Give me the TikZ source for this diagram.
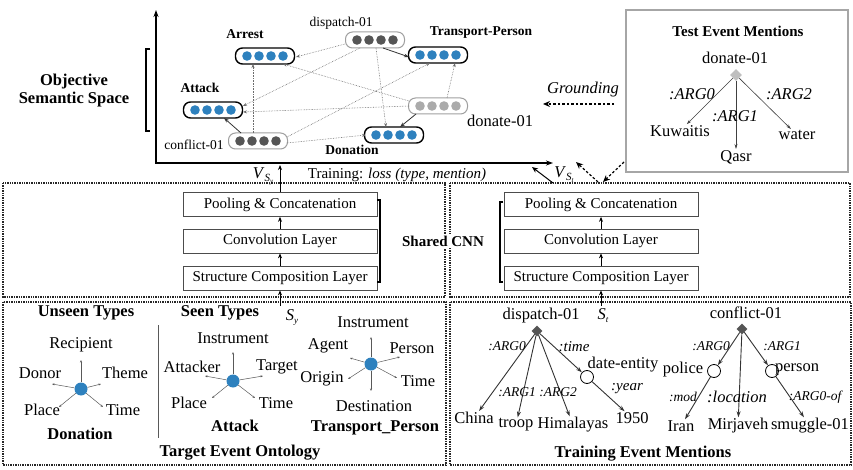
\documentclass[tikz,border=0pt]{standalone}
\usepackage{fontspec}
\setmainfont{Liberation Serif}
\usetikzlibrary{arrows.meta,calc,shapes.geometric}
\definecolor{dotblue}{HTML}{2E81BE}
\definecolor{dotdark}{HTML}{555555}
\definecolor{dotlight}{HTML}{ABABAB}
\begin{document}
\begin{tikzpicture}[x=1pt,y=-1pt,
  fbig/.style={font=\fontsize{16.5}{18}\selectfont},
  fbigb/.style={font=\fontsize{16.5}{18}\selectfont\bfseries},
  fmid/.style={font=\fontsize{15}{17}\selectfont},
  fmidb/.style={font=\fontsize{15}{17}\selectfont\bfseries},
  ftyp/.style={font=\fontsize{13.5}{15}\selectfont\bfseries},
  fsm/.style={font=\fontsize{13.5}{15}\selectfont},
  flab/.style={font=\fontsize{13.5}{15}\selectfont\itshape},
  flabm/.style={font=\fontsize{15}{17}\selectfont\itshape},
  flabb/.style={font=\fontsize{16.5}{18}\selectfont\itshape},
  txt/.style={inner sep=1pt},
  pillseen/.style={draw=black, line width=1.4pt, rounded corners=7pt, minimum width=59pt, minimum height=16pt, inner sep=0pt},
  pillment/.style={draw=gray!75, line width=1pt, rounded corners=7pt, minimum width=59pt, minimum height=16pt, inner sep=0pt},
  dotarr/.style={gray!85!black, densely dotted, line width=0.6pt, -{Stealth[length=4pt,width=3pt]}},
  solarr/.style={black!80, line width=0.8pt, -{Stealth[length=5pt,width=3.5pt]}},
  axis/.style={line width=1.6pt, {Stealth[length=7pt,width=5pt]}-{Stealth[length=7pt,width=5pt]}},
  dasharr/.style={line width=1.5pt, dash pattern=on 2.5pt off 2pt, -{Stealth[length=7pt,width=6pt]}},
  panel/.style={draw=black!85, line width=1.4pt, densely dotted},
  layer/.style={draw=black!70, line width=0.7pt, minimum width=194pt, minimum height=24pt, fmid, inner sep=0pt},
  uparr/.style={line width=1pt, -{Stealth[length=5pt,width=4pt]}},
  hub/.style={circle, fill=dotblue, minimum size=13pt, inner sep=0pt},
  spoke/.style={gray!70!black, line width=0.5pt, -{Stealth[length=2.5pt,width=2pt]}},
  tree/.style={black!80, line width=0.9pt, -{Stealth[length=6pt,width=4pt]}},
  ttree/.style={black!75, line width=0.6pt, -{Stealth[length=5pt,width=3pt]}},
  amr/.style={diamond, fill=dotdark, minimum size=11pt, inner sep=0pt},
  ent/.style={circle, draw=black, line width=0.8pt, fill=white, minimum size=13pt, inner sep=0pt}
]
\useasboundingbox (0,0) rectangle (853,470);

% ---------------- Objective semantic space ----------------
\node[fbigb, align=center, txt] (objlab) at (74,91) {Objective\\Semantic Space};
\draw[line width=1.2pt] (150,49) -- (146,49) -- (146,131) -- (150,131);
\coordinate (O) at (156,163);
\coordinate (ytop) at (156,10);
\coordinate (xend) at (553,163);
\draw[axis] (ytop) -- (O) -- (xend);

\node[pillseen] (arrest) at (265,56) {};
\node[pillseen] (attack) at (213,110) {};
\node[pillseen] (transp) at (438,55) {};
\node[pillseen] (donation) at (394,135) {};
\node[pillment] (disp) at (375,40) {};
\node[pillment] (confl) at (258,141) {};
\node[pillment] (donate) at (438,106) {};
\foreach \n/\c in {arrest/dotblue,attack/dotblue,transp/dotblue,donation/dotblue,disp/dotdark,confl/dotdark,donate/dotlight}
  \foreach \d in {-18,-6,6,18}
    \fill[\c] ($(\n)+(\d,0)$) circle (4.8pt);

\node[ftyp, txt] (arrestl) at (245,34) {Arrest};
\node[ftyp, txt] (attackl) at (200,88) {Attack};
\node[ftyp, txt] (transpl) at (481,33) {Transport-Person};
\node[ftyp, txt] (donationl) at (352,150) {Donation};
\node[fsm, txt] (displ) at (341,23) {dispatch-01};
\node[fsm, txt] (confll) at (194,145) {conflict-01};
\node[fbig, txt] (donatel) at (500,121) {donate-01};

\draw[dotarr] ($(disp)+(-30,4)$) -- ($(arrest)+(31,1)$);
\draw[dotarr] ($(disp)+(-15,8)$) -- ($(attack)+(30,-4)$);
\draw[dotarr] ($(disp)+(1,8)$) -- ($(donation)+(-8,-8)$);
\draw[solarr] ($(disp)+(8,8)$) -- ($(transp)+(-29,2)$);
\draw[solarr] ($(confl)+(-17,-8)$) -- ($(attack)+(11,8)$);
\draw[dotarr] ($(confl)+(-5,-8)$) -- ($(arrest)+(-12,8)$);
\draw[dotarr] ($(confl)+(29,-4)$) -- ($(transp)+(-8,8)$);
\draw[dotarr] ($(confl)+(29,2)$) -- ($(donation)+(-28,0)$);
\draw[dotarr] ($(donate)+(-29,-5)$) -- ($(arrest)+(18,8)$);
\draw[dotarr] ($(donate)+(-29,0)$) -- ($(attack)+(30,2)$);
\draw[dotarr] ($(donate)+(9,-8)$) -- ($(transp)+(17,8)$);
\draw[solarr] ($(donate)+(-22,8)$) -- ($(donation)+(6,-8)$);

% ---------------- Grounding ----------------
\coordinate (g1) at (614,104);
\coordinate (g2) at (543,104);
\draw[dasharr] (g1) -- (g2);
\node[flabb, txt] (groundl) at (583,90) {Grounding};

% ---------------- Test event mentions ----------------
\draw[draw=gray!70, line width=1.5pt] (626,10) rectangle (848,172);
\node[fmidb, txt] (testl) at (738,31) {Test Event Mentions};
\node[fbig, txt] (tdonate) at (735,58) {donate-01};
\node[amr, fill=gray!50, minimum size=12pt] (tdiam) at (736,75) {};
\node[fbig, txt] (kuw) at (680,131) {Kuwaitis};
\node[fbig, txt] (qasr) at (736,157) {Qasr};
\node[fbig, txt] (water) at (797,135) {water};
\draw[ttree] (tdiam) -- (kuw);
\draw[ttree] (tdiam) -- (qasr);
\draw[ttree] (tdiam) -- (water);
\node[flabb, txt] (ta0) at (692,94) {:ARG0};
\node[flabb, txt] (ta1) at (735,116) {:ARG1};
\node[flabb, txt] (ta2) at (789,94) {:ARG2};

% ---------------- CNN panels ----------------
\draw[panel] (3,183) rectangle (445,297);
\draw[panel] (450,183) rectangle (850,297);
\draw[panel] (3,302) rectangle (446,465);
\draw[panel] (450,302) rectangle (851,465);

\node[layer] (pool1) at (280,204.5) {Pooling \& Concatenation};
\node[layer] (conv1) at (280,241) {Convolution Layer};
\node[layer] (str1) at (280,278) {Structure Composition Layer};
\node[layer] (pool2) at (601,204.5) {Pooling \& Concatenation};
\node[layer] (conv2) at (601,241) {Convolution Layer};
\node[layer] (str2) at (601,278) {Structure Composition Layer};
\draw[uparr] (conv1) -- (pool1);
\draw[uparr] (str1) -- (conv1);
\draw[uparr] (conv2) -- (pool2);
\draw[uparr] (str2) -- (conv2);
\draw[line width=1.1pt] (377,200) -- (380,200) -- (380,282) -- (377,282);
\draw[line width=1.1pt] (503,202) -- (500,202) -- (500,282) -- (503,282);
\node[fmidb, fill=white, inner sep=2pt] (shared) at (443,241) {Shared CNN};

\coordinate (sy0) at (280,306);
\coordinate (st0) at (601,306);
\draw[uparr] (sy0) -- (str1);
\draw[uparr] (st0) -- (str2);
\node[fbig, txt] (syl) at (292,318) {\textit{S}\raisebox{-3pt}{\fontsize{9}{9}\selectfont\textit{y}}};
\node[fbig, txt] (stl) at (603,316) {\textit{S}\raisebox{-3pt}{\fontsize{9}{9}\selectfont\textit{t}}};

% outputs to the semantic space
\coordinate (vy) at (280,165);
\draw[uparr] (pool1) -- (vy);
\node[fbig, txt] (vsyl) at (263,176) {\textit{V}\raisebox{-3pt}{\fontsize{11}{11}\selectfont\textit{S}\raisebox{-2pt}{\fontsize{7}{7}\selectfont\textit{y}}}};
\node[fmid, txt] (trainl) at (397,175) {Training: \textit{loss (type, mention)}};
\coordinate (vt1) at (553,183);
\coordinate (vt2) at (532,167);
\draw[line width=1pt, -{Stealth[length=6pt,width=5pt]}] (vt1) -- (vt2);
\node[fbig, txt] (vstl) at (564,175) {\textit{V}\raisebox{-3pt}{\fontsize{11}{11}\selectfont\textit{S}\raisebox{-2pt}{\fontsize{7}{7}\selectfont\textit{t}}}};
\coordinate (d1) at (598,182);
\coordinate (d2) at (576,162);
\coordinate (d3) at (624,162);
\coordinate (d4) at (603,182);
\draw[dasharr, line width=1.2pt] (d1) -- (d2);
\draw[dasharr, line width=1.2pt] (d3) -- (d4);

% ---------------- Target event ontology ----------------
\node[fbigb, txt] (unseen) at (86,313) {Unseen Types};
\node[fbigb, txt] (seen) at (220,313) {Seen Types};
\draw[gray!70!black, line width=0.6pt] (158,325) -- (158,438);

\node[hub] (dhub) at (81,389) {};
\draw[spoke] (dhub) -- +(0,-29);
\draw[spoke] (dhub) -- +(-29,-5);
\draw[spoke] (dhub) -- +(20,-5);
\draw[spoke] (dhub) -- +(-22,18);
\draw[spoke] (dhub) -- +(22,18);
\node[fbig, txt] (drec) at (81,345) {Recipient};
\node[fbig, txt] (ddon) at (40,373) {Donor};
\node[fbig, txt] (dthe) at (125,373) {Theme};
\node[fbig, txt] (dpla) at (42,410) {Place};
\node[fbig, txt] (dtim) at (123,410) {Time};
\node[fbigb, txt] (dname) at (80,434) {Donation};

\node[hub] (ahub) at (233,381) {};
\draw[spoke] (ahub) -- +(0,-29);
\draw[spoke] (ahub) -- +(-28,-5);
\draw[spoke] (ahub) -- +(30,-5);
\draw[spoke] (ahub) -- +(-21,17);
\draw[spoke] (ahub) -- +(22,17);
\node[fbig, txt] (ains) at (233,338) {Instrument};
\node[fbig, txt] (aatt) at (192,367) {Attacker};
\node[fbig, txt] (atar) at (277,367) {Target};
\node[fbig, txt] (apla) at (189,403) {Place};
\node[fbig, txt] (atim) at (276,403) {Time};
\node[fbigb, txt] (aname) at (235,426) {Attack};

\node[hub] (phub) at (371,364) {};
\draw[spoke] (phub) -- +(0,-27);
\draw[spoke] (phub) -- +(0,27);
\draw[spoke] (phub) -- +(-21,-6);
\draw[spoke] (phub) -- +(29,-7);
\draw[spoke] (phub) -- +(-23,15);
\draw[spoke] (phub) -- +(26,14);
\node[fbig, txt] (pins) at (373,322) {Instrument};
\node[fbig, txt] (pag) at (328,346) {Agent};
\node[fbig, txt] (pper) at (412,348) {Person};
\node[fbig, txt] (pori) at (322,379) {Origin};
\node[fbig, txt] (ptim) at (418,381) {Time};
\node[fbig, txt] (pdes) at (374,406) {Destination};
\node[fbigb, txt] (pname) at (375,428) {Transport\_Person};
\node[fbigb, txt] (onto) at (240,453) {Target Event Ontology};

% ---------------- Training event mentions ----------------
\node[fbig, txt] (tdisp) at (541,316) {dispatch-01};
\node[amr] (dd) at (537,331) {};
\node[ent] (dcirc) at (587,377) {};
\node[fbig, txt] (china) at (474,418) {China};
\node[fbig, txt] (troop) at (516,425) {troop};
\node[fbig, txt] (hima) at (573,425) {Himalayas};
\node[fbig, txt] (dent) at (623,365) {date-entity};
\node[fbig, txt] (y1950) at (632,418) {1950};
\draw[tree] (dd) -- (china);
\draw[tree] (dd) -- (troop);
\draw[tree] (dd) -- (hima);
\draw[tree] (dd) -- (dcirc);
\draw[tree] (dcirc) -- (y1950);
\node[flab, txt] (l1) at (507,346) {:ARG0};
\node[flabm, txt] (l2) at (574,347) {:time};
\node[flab, txt] (l3) at (517,392) {:ARG1};
\node[flab, txt] (l4) at (558,392) {:ARG2};
\node[flabm, txt] (l5) at (627,389) {:year};

\node[fbig, txt] (tconf) at (746,313) {conflict-01};
\node[amr] (cd) at (742,329) {};
\node[ent] (polc) at (714,371) {};
\node[ent] (perc) at (772,371) {};
\node[fbig, txt] (police) at (683,370) {police};
\node[fbig, txt] (person) at (797,369) {person};
\node[fbig, txt] (iran) at (681,426) {Iran};
\node[fbig, txt] (mirj) at (738,426) {Mirjaveh};
\node[fbig, txt] (smug) at (810,426) {smuggle-01};
\draw[tree] (cd) -- (polc);
\draw[tree] (cd) -- (perc);
\draw[tree] (cd) -- (mirj);
\draw[tree] (polc) -- (iran);
\draw[tree] (perc) -- (smug);
\node[flab, txt] (m1) at (711,346) {:ARG0};
\node[flab, txt] (m2) at (782,346) {:ARG1};
\node[flab, txt] (m3) at (683,397) {:mod};
\node[flabb, txt] (m4) at (737,397) {:location};
\node[flab, txt] (m5) at (815,397) {:ARG0-of};
\node[fbigb, txt] (tem) at (643,454) {Training Event Mentions};
\end{tikzpicture}
\end{document}
